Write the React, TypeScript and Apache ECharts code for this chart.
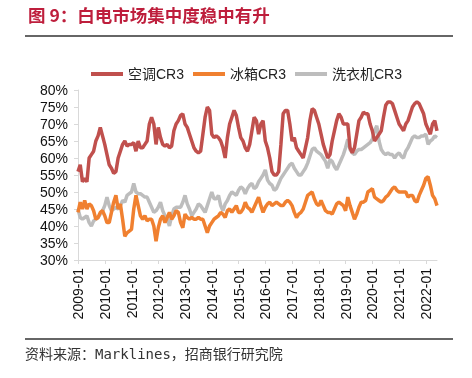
import React, { useEffect, useRef } from "react";
import * as echarts from "echarts";

const years = ["2009","2010","2011","2012","2013","2014","2015","2016","2017","2018","2019","2020","2021","2022"];
const months = ["01","02","03","04","05","06","07","08","09","10","11","12"];
const categories: string[] = [];
years.forEach((y) => months.forEach((m) => { if (!(y === "2022" && Number(m) > 6)) categories.push(`${y}-${m}`); }));

const acCR3 = [
  56, 58, 53, 54, 53, 60, 61, 62, 65, 66.5, 69, 66.5,
  64, 61, 58, 57, 55.5, 56, 60, 62, 64, 65, 63.5, 64,
  64, 64.5, 62, 65, 63, 63, 64, 65, 70, 72, 70, 64,
  69, 66, 64, 63.5, 64, 63, 63.5, 68, 70, 71, 72.5, 73,
  70, 69, 67, 65, 63, 62, 61.5, 62, 67, 72, 75, 74,
  67, 66, 66.5, 66, 65, 63, 60, 66, 70, 72, 74, 72.5,
  69, 66, 65, 63, 62, 64, 68, 72, 71, 67, 70, 71,
  65, 63, 60, 56, 55, 55, 56, 64, 73, 74, 74, 70,
  65, 66, 63, 62, 61, 60, 63, 66, 71, 74.5, 74, 72,
  70, 67, 64, 62, 60, 61, 65, 68, 71, 73, 72, 70,
  70, 70, 63, 61.5, 63, 67, 71, 72, 73.5, 73, 73, 70,
  68, 65, 66, 67, 68, 72, 75.5, 76.5, 76.5, 76, 74, 72,
  70, 69, 68, 70, 71, 73, 75, 76, 76.5, 76, 74.5, 73,
  70, 68.5, 67, 70, 71, 68,
];

const fridgeCR3 = [
  44, 47, 45, 47.5, 45, 46.5, 46, 44.5, 42, 42.5, 44, 44.5,
  43, 41, 41, 44, 47, 49, 45, 46.5, 42, 37, 38, 38.5,
  39, 45, 49, 46, 43, 42, 43, 41.5, 42, 42, 40, 35.5,
  39.5, 42, 43, 41, 42.5, 44, 42, 43, 44.5, 44, 41, 39.5,
  43.5, 42.5, 42, 42.5, 42, 42, 42.5, 42, 42, 40, 38, 40,
  41, 42, 42.5, 43, 44, 43.5, 42.5, 44.5, 45, 44, 45, 46,
  44, 44, 45, 47, 45.5, 45, 44, 45.5, 47, 48.5, 46, 44,
  45.5, 46.5, 47, 46, 46.5, 47, 46.5, 46, 46, 47, 47.5, 47,
  46, 44, 42.5, 43.5, 44, 45, 47, 49, 49.5, 50, 48, 46.5,
  46, 47.5, 46, 44.5, 44, 44, 43.5, 45, 46.5, 47, 46.5, 46,
  44.5, 48.5, 46, 44, 42, 43.5, 45.5, 47, 47, 47.5, 50, 50.5,
  51, 48.5, 48, 47.5, 47, 47.5, 48.5, 49, 50, 51, 51.5, 50.5,
  50, 50, 50, 50, 48.5, 49, 49, 47.5, 47, 49, 50.5, 52,
  54, 54.5, 52, 49, 48, 46,
];

const washerCR3 = [
  45, 42.5, 42, 42.5, 43, 41, 40, 41.5, 42, 42.5, 43.5, 44.5,
  46, 48.5, 46, 44.5, 45, 45.5, 45, 46, 47.5, 47, 49, 49.5,
  50, 52.5, 50, 49.5, 49.5, 49, 48.5, 48.5, 47, 45.5, 44, 44.5,
  45.5, 47, 44.5, 43, 42, 40, 43, 45, 45.5, 45.5, 45.5, 47,
  49, 46.5, 45, 43, 44, 45, 46.5, 46, 45, 44, 46, 48,
  50, 48, 48, 49, 46, 44.5, 46.5, 47.5, 49, 50, 49.5, 49,
  50.5, 51.5, 51, 49.5, 51, 52, 52.5, 51, 51.5, 53, 54, 55,
  56.5, 53.5, 52.5, 52, 50.5, 51, 52.5, 54, 55, 56, 57, 58,
  58.5, 57, 56, 55, 55, 56, 57, 58.5, 60.5, 62.5, 63, 62,
  61.5, 61, 60, 59, 57, 59.5, 59, 57.5, 56.5, 58, 59.5, 61,
  63, 65.5, 62.5, 61.5, 61, 62, 62.5, 62.5, 63, 63.5, 64, 64.5,
  65.5, 68, 69.5, 65, 62.5, 61.5, 61, 61.5, 61, 61, 60, 61,
  61.5, 60.5, 60, 62, 63, 64.5, 66, 66.5, 66, 66, 66.5, 66.5,
  67, 64, 65, 65.5, 66.5, 66,
];

const yTicks = { min: 30, max: 80, step: 5 };

const FONT = "'Liberation Sans', Arial, 'Noto Sans CJK SC', sans-serif";

export default function App() {
  const ref = useRef<HTMLDivElement>(null);
  useEffect(() => {
    if (!ref.current) return;
    const chart = echarts.init(ref.current, undefined, { renderer: "svg" });
    chart.setOption({
      animation: false,
      textStyle: { fontFamily: FONT },
      graphic: [
        {
          type: "text",
          left: 28,
          top: 6,
          style: {
            text: "图 9：白电市场集中度稳中有升",
            fill: "#BE1E3C",
            font: "bold 17.5px 'Noto Sans CJK SC', sans-serif",
          },
        },
        {
          type: "line",
          shape: { x1: 25, y1: 36, x2: 453, y2: 36 },
          style: { stroke: "#333333", lineWidth: 1.5 },
        },
        {
          type: "line",
          shape: { x1: 25, y1: 339, x2: 453, y2: 339 },
          style: { stroke: "#333333", lineWidth: 1.5 },
        },
        {
          type: "text",
          left: 25,
          top: 347,
          style: {
            text: "资料来源：Marklines，招商银行研究院",
            fill: "#333333",
            font: "14px 'DejaVu Sans Mono', 'Noto Sans CJK SC', monospace",
          },
        },
      ],
      legend: {
        left: 86,
        top: 62,
        icon: "rect",
        itemWidth: 32,
        itemHeight: 4,
        itemGap: 9,
        textStyle: { fontSize: 14, color: "#222", fontFamily: FONT },
        data: ["空调CR3", "冰箱CR3", "洗衣机CR3"],
      },
      grid: { left: 78, right: 35, top: 90, bottom: 118 },
      xAxis: {
        type: "category",
        data: categories,
        boundaryGap: false,
        axisLine: { lineStyle: { color: "#D9D9D9", width: 1 } },
        axisTick: { interval: 11, length: 4, lineStyle: { color: "#D9D9D9" } },
        axisLabel: { interval: 11, rotate: 90, fontSize: 14, color: "#111", margin: 8 },
      },
      yAxis: {
        type: "value",
        min: yTicks.min,
        max: yTicks.max,
        interval: yTicks.step,
        axisLine: { show: true, lineStyle: { color: "#D9D9D9" } },
        axisTick: { show: true, length: 4, lineStyle: { color: "#D9D9D9" } },
        splitLine: { show: false },
        axisLabel: { formatter: "{value}%", fontSize: 14, color: "#111", margin: 10 },
      },
      series: [
        { name: "空调CR3", type: "line", data: acCR3, showSymbol: false, symbol: "none", color: "#C0504D", lineStyle: { width: 3.5, color: "#C0504D" }, z: 3 },
        { name: "冰箱CR3", type: "line", data: fridgeCR3, showSymbol: false, symbol: "none", color: "#F08030", lineStyle: { width: 3.5, color: "#F08030" }, z: 2 },
        { name: "洗衣机CR3", type: "line", data: washerCR3, showSymbol: false, symbol: "none", color: "#BDBDBD", lineStyle: { width: 3.5, color: "#BDBDBD" }, z: 1 },
      ],
    });
    return () => chart.dispose();
  }, []);
  return <div ref={ref} style={{ position: "fixed", left: 0, top: 0, width: 472, height: 378 }} />;
}
